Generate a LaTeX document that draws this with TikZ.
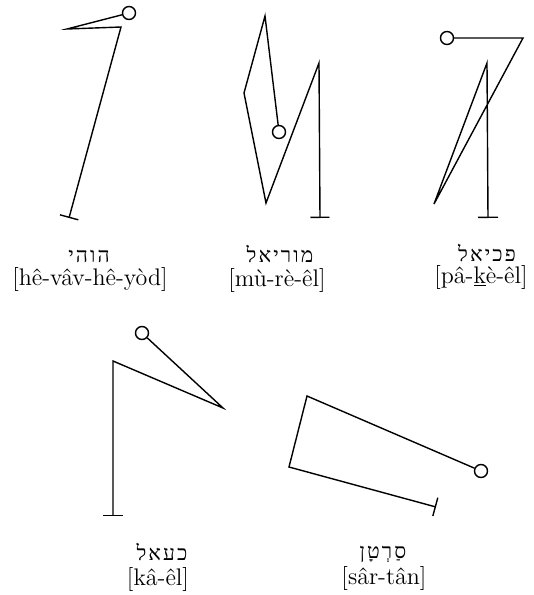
\documentclass[tikz,border=0pt]{standalone}
\usepackage{fontspec}
\newfontfamily\hebfont[Script=Hebrew, LetterSpace=10]{Liberation Serif}
\TeXXeTstate=1
\usetikzlibrary{arrows.meta}

\begin{document}
\begin{tikzpicture}[x=0.5pt, y=-0.5pt, line width=0.7pt,
    head/.style={circle, draw, inner sep=0pt, minimum size=6.5pt},
    heb/.style={anchor=base, inner sep=1pt, font=\hebfont\fontsize{10.5}{12}\selectfont},
    translit/.style={anchor=base, inner sep=1pt, font=\fontsize{12}{14}\selectfont}]
            \useasboundingbox (0,0) rectangle (534,595);
            % hê-vâv-hê-yòd
            \node[head](c1)at(129,13){};
            \coordinate(a1)at(67,29);
            \coordinate(b1)at(121,27);
            \coordinate(f1)at(69,218);
            \path[draw, -{Bar[width=9.5pt]}](c1)--(a1)--(b1)--(f1);
            \node[heb](h1)at(89,262){\beginR הוהי\endR};
            \node[translit](t1)at(90,285){[hê-vâv-hê-yòd]};
            % mù-rè-êl
            \node[head](c2)at(279,132){};
            \coordinate(a2)at(265,16);
            \coordinate(b2)at(244,93);
            \coordinate(d2)at(266,203);
            \coordinate(e2)at(319,63);
            \coordinate(f2)at(320,218);
            \path[draw, -{Bar[width=9.5pt]}](c2)--(a2)--(b2)--(d2)--(e2)--(f2);
            \node[heb](h2)at(280,262){\beginR מוריאל\endR};
            \node[translit](t2)at(277,286){[mù-rè-êl]};
            % pâ-kè-êl
            \node[head](c3)at(447,38){};
            \coordinate(a3)at(523,38);
            \coordinate(b3)at(434,204);
            \coordinate(d3)at(487,63);
            \coordinate(f3)at(488,218);
            \path[draw, -{Bar[width=10pt]}](c3)--(a3)--(b3)--(d3)--(f3);
            \node[heb](h3)at(487,261){\beginR פכיאל\endR};
            \node[translit](t3)at(481,283){[pâ-\underline{k}è-êl]};
            % kâ-êl
            \node[head](c4)at(142,333){};
            \coordinate(a4)at(223,408);
            \coordinate(b4)at(113,361);
            \coordinate(f4)at(113,516);
            \path[draw, -{Bar[width=10pt]}](c4)--(a4)--(b4)--(f4);
            \node[heb](h4)at(162,560){\beginR כעאל\endR};
            \node[translit](t4)at(158,585){[kâ-êl]};
            % sâr-tân
            \node[head](c5)at(481,471){};
            \coordinate(a5)at(307,396);
            \coordinate(b5)at(289,467);
            \coordinate(f5)at(436,507);
            \path[draw, -{Bar[width=9.5pt]}](c5)--(a5)--(b5)--(f5);
            \node[heb](h5)at(383,558){\beginR סַרְטָן\endR};
            \node[translit](t5)at(384,584){[sâr-tân]};
        \end{tikzpicture}
\end{document}
